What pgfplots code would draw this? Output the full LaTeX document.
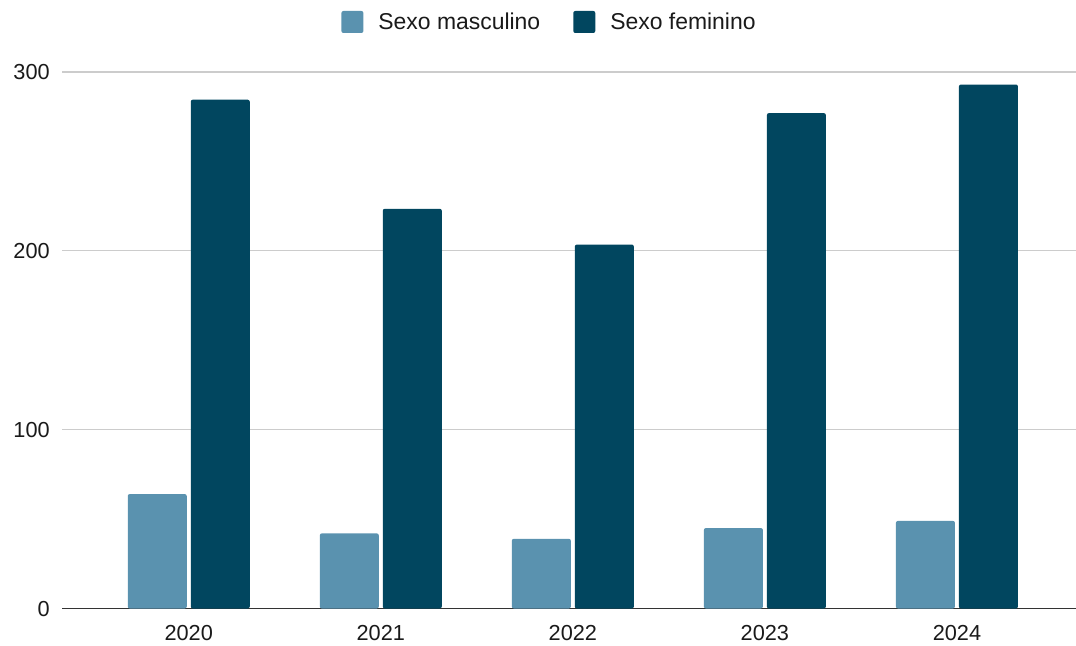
\documentclass[border=0pt]{standalone}
\usepackage{fontspec}
\setmainfont{Liberation Sans}
\usepackage{pgfplots}
\usepackage{pgfplotstable}
\pgfplotsset{compat=1.18}
\definecolor{masc}{HTML}{5A92AF}
\definecolor{fem}{HTML}{01465F}
\definecolor{gridc}{HTML}{CCCCCC}
\definecolor{basec}{HTML}{333333}
\definecolor{txt}{HTML}{1A1A1A}
\pgfplotstableread{
x masc fem
0 64 284.5
1 42 223.5
2 39 203.5
3 45 277
4 49 293
}\datatable
\begin{document}
\begin{tikzpicture}
\path[use as bounding box] (0,0) rectangle (807pt,484.5pt);
\begin{axis}[
  at={(46.5pt,28.1pt)}, anchor=south west,
  scale only axis, width=760.5pt, height=402.4pt,
  ybar=3pt, bar width=44.25pt,
  xmin=-0.66, xmax=4.62, ymin=0, ymax=300,
  xtick={0,1,2,3,4}, xticklabels={2020,2021,2022,2023,2024},
  ytick={0,100,200,300},
  major tick length=0pt,
  ymajorgrids, grid style={gridc, line width=0.9pt},
  axis x line*=bottom, axis y line*=left,
  y axis line style={draw=none},
  x axis line style={basec, line width=1.3pt, -},
  /pgf/number format/assume math mode=true,
  ticklabel style={font=\fontsize{16.3}{19}\selectfont, text=txt},
  yticklabel style={inner sep=0pt, xshift=-9pt},
  xticklabel style={inner sep=0pt, yshift=-12.4pt},
  legend columns=2,
  legend style={at={(0.4798,1.0932)}, anchor=center, draw=none, fill=none,
    font=\fontsize{17.2}{19}\selectfont, text=txt,
    nodes={inner xsep=0pt, inner ysep=2pt},
    /tikz/every odd column/.style={column sep=11.25pt},
    /tikz/every even column/.style={column sep=24.75pt}},
  legend image code/.code={\fill[#1, rounded corners=1.5pt] (0pt,-8.25pt) rectangle (16.5pt,8.25pt);},
]
\addplot[fill=masc, draw=none, rounded corners=1.5pt] table[x=x, y=masc] {\datatable};
\addplot[fill=fem, draw=none, rounded corners=1.5pt] table[x=x, y=fem] {\datatable};
\legend{Sexo masculino, Sexo feminino}
\end{axis}
\end{tikzpicture}
\end{document}
